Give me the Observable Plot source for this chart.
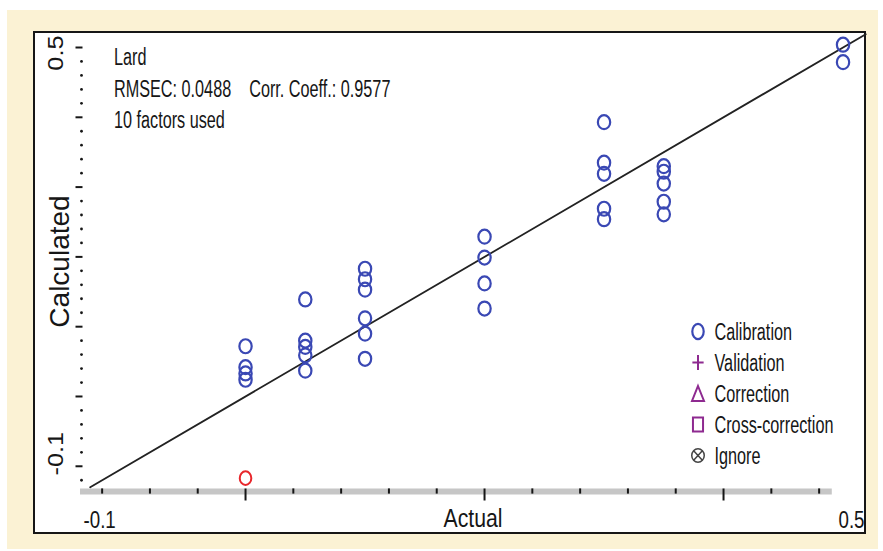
<!DOCTYPE html>
<html><head><meta charset="utf-8">
<script src="https://cdn.jsdelivr.net/npm/d3@7"></script>
<script src="https://cdn.jsdelivr.net/npm/@observablehq/plot@0.6"></script>
<style>
html,body{margin:0;padding:0;background:#fff;width:883px;height:551px;overflow:hidden;}
#cream{position:absolute;left:7px;top:10px;width:871px;height:539px;background:#fbf2d4;}
#panel{position:absolute;left:33px;top:31px;width:829px;height:499px;background:#fff;border:2px solid #161616;}
#chart{position:absolute;left:0;top:0;}
#chart svg text{white-space:pre;}
</style></head>
<body><div id="cream"></div><div id="panel"></div><div id="chart"></div>
<script>
// ---- data ----
const actualValues = [0,0,0,0, 0.05,0.05,0.05,0.05,0.05, 0.1,0.1,0.1,0.1,0.1,0.1, 0.2,0.2,0.2,0.2, 0.3,0.3,0.3,0.3,0.3, 0.35,0.35,0.35,0.35,0.35, 0.5,0.5];
const calculatedValues = [0.072,0.042,0.033,0.024, 0.139,0.080,0.071,0.059,0.037, 0.183,0.168,0.153,0.112,0.090,0.054, 0.229,0.199,0.162,0.126, 0.393,0.335,0.319,0.269,0.254, 0.330,0.322,0.305,0.279,0.261, 0.504,0.479];
const excludedActual = [0];
const excludedCalculated = [-0.117];
const diagRange = [-0.13, 0.519];
const xDomain = [-0.1381, 0.5188];
const yDomain = [-0.1347, 0.5215];
const xBarRange = [-0.1381, 0.491];
const xMajorTicks = [0, 0.2, 0.4];
const xMinorTicks = [-0.12,-0.08,-0.04,0.04,0.08,0.12,0.16,0.24,0.28,0.32,0.36,0.44,0.48];
const yMajorTicks = [-0.1, 0, 0.1, 0.2, 0.3, 0.4, 0.5];
const yMinorTicks = [-0.12,-0.08,-0.06,-0.04,-0.02,0.02,0.04,0.06,0.08,0.12,0.14,0.16,0.18,0.22,0.24,0.26,0.28,0.32,0.34,0.36,0.38,0.42,0.44,0.46,0.48];
const xEndLabels = ["-0.1", "0.5"];
const yEndLabels = ["-0.1", "0.5"];
const xTitle = "Actual";
const yTitle = "Calculated";
const infoLines = ["Lard", "RMSEC: 0.0488    Corr. Coeff.: 0.9577", "10 factors used"];
const legendLabels = ["Calibration", "Validation", "Correction", "Cross-correction", "Ignore"];

// ---- symbols ----
const K = 0.5522847498;
function ellipsePath(ctx, rx, ry) {
  ctx.moveTo(rx, 0);
  ctx.bezierCurveTo(rx, ry*K, rx*K, ry, 0, ry);
  ctx.bezierCurveTo(-rx*K, ry, -rx, ry*K, -rx, 0);
  ctx.bezierCurveTo(-rx, -ry*K, -rx*K, -ry, 0, -ry);
  ctx.bezierCurveTo(rx*K, -ry, rx, -ry*K, rx, 0);
  ctx.closePath();
}
const mkSym = f => ({draw(ctx, size) { const r = Math.sqrt(size / Math.PI); f(ctx, r); }});
const ellipseSym = a => mkSym((c, r) => ellipsePath(c, r*a, r));
const plusSym = a => mkSym((c, r) => { c.moveTo(-r*a, 0); c.lineTo(r*a, 0); c.moveTo(0, -r); c.lineTo(0, r); });
const triSym = a => mkSym((c, r) => { c.moveTo(0, -r); c.lineTo(r*a, r); c.lineTo(-r*a, r); c.closePath(); });
const rectSym = a => mkSym((c, r) => { c.rect(-r*a, -r, 2*r*a, 2*r); });
const crossedSym = a => mkSym((c, r) => { ellipsePath(c, r*a, r); const d = 0.62; c.moveTo(-r*a*d, -r*d); c.lineTo(r*a*d, r*d); c.moveTo(r*a*d, -r*d); c.lineTo(-r*a*d, r*d); });
const vDash = mkSym((c, r) => { c.moveTo(0, -r); c.lineTo(0, r); });
const hDash = mkSym((c, r) => { c.moveTo(-r, 0); c.lineTo(r, 0); });

const blue = "#3a48b4", red = "#e8262b", purple = "#8e2a90", ink = "#161616";
const legendSymbols = [ellipseSym(0.75), plusSym(0.75), triSym(0.8), rectSym(0.72), crossedSym(0.92)];
const legendR = [7.6, 7.5, 7.5, 7, 6.8];
const legendColors = [blue, purple, purple, purple, "#444"];
const legendWidths = [2.2, 2, 2, 2, 1.5];

const points = actualValues.map((a, i) => ({actual: a, calculated: calculatedValues[i]}));
const excluded = excludedActual.map((a, i) => ({actual: a, calculated: excludedCalculated[i]}));

const marks = [
  Plot.ruleY([yDomain[0]], {x1: xBarRange[0], x2: xBarRange[1], stroke: "#c6c6c6", strokeWidth: 6, dy: 1}),
  Plot.dot(xMinorTicks, {x: d => d, frameAnchor: "bottom", symbol: vDash, r: 2.6, stroke: ink, strokeWidth: 2, dy: 0.5}),
  Plot.dot(xMajorTicks, {x: d => d, frameAnchor: "bottom", symbol: vDash, r: 6, stroke: ink, strokeWidth: 2, dy: 4}),
  Plot.dot(yMinorTicks, {y: d => d, frameAnchor: "left", r: 1.4, fill: ink, dx: 1}),
  Plot.dot(yMajorTicks, {y: d => d, frameAnchor: "left", symbol: hDash, r: 3.5, stroke: ink, strokeWidth: 2, dx: -1.5}),
  Plot.line(diagRange, {x: d => d, y: d => d, stroke: "#222", strokeWidth: 1.8}),
  Plot.dot(points, {x: "actual", y: "calculated", symbol: ellipseSym(0.88), r: 7, stroke: blue, strokeWidth: 2.2, fill: "none"}),
  Plot.dot(excluded, {x: "actual", y: "calculated", symbol: ellipseSym(0.85), r: 6.8, stroke: red, strokeWidth: 2, fill: "none"}),
  // axis end labels
  Plot.text([xEndLabels[0]], {text: d => d, frameAnchor: "bottom-left", textAnchor: "start", lineAnchor: "middle", fontSize: 24, dx: 3, dy: 30, fill: ink}),
  Plot.text([xEndLabels[1]], {text: d => d, frameAnchor: "bottom-right", textAnchor: "end", lineAnchor: "middle", fontSize: 24, dx: -1, dy: 30, fill: ink}),
  Plot.text([xTitle], {text: d => d, frameAnchor: "bottom", textAnchor: "middle", lineAnchor: "middle", fontSize: 25, dy: 28, fill: ink}),
  Plot.text([yEndLabels[1]], {text: d => d, frameAnchor: "top-left", rotate: -90, textAnchor: "end", lineAnchor: "middle", fontSize: 22, dx: -25, dy: 3, fill: ink}),
  Plot.text([yEndLabels[0]], {text: d => d, frameAnchor: "bottom-left", rotate: -90, textAnchor: "start", lineAnchor: "middle", fontSize: 22, dx: -25, dy: -15, fill: ink}),
  Plot.text([yTitle], {text: d => d, frameAnchor: "left", rotate: -90, textAnchor: "middle", lineAnchor: "middle", fontSize: 28, dx: -20, fill: ink})
];
infoLines.forEach((t, i) => {
  marks.push(Plot.text([t], {text: d => d, frameAnchor: "top-left", textAnchor: "start", lineAnchor: "middle", fontSize: 23, dx: 33.5, dy: 25.5 + 31.2*i, fill: ink}));
});
legendLabels.forEach((t, i) => {
  marks.push(Plot.dot([t], {frameAnchor: "bottom-right", symbol: legendSymbols[i], r: legendR[i], stroke: legendColors[i], strokeWidth: legendWidths[i], fill: "none", dx: -167.5, dy: -159 + 31*i}));
  marks.push(Plot.text([t], {text: d => d, frameAnchor: "bottom-right", textAnchor: "start", lineAnchor: "middle", fontSize: 23, dx: -151, dy: -157.5 + 31*i, fill: ink}));
});

const svg = Plot.plot({
  width: 883, height: 551,
  marginLeft: 80, marginRight: 18, marginTop: 32, marginBottom: 61,
  x: {domain: xDomain, axis: null},
  y: {domain: yDomain, axis: null},
  style: {background: "transparent", fontFamily: "'Liberation Sans', Arial, sans-serif", color: ink, overflow: "visible"},
  marks
});
document.getElementById("chart").appendChild(svg);

// horizontal squeeze of the narrow bitmap-style font
const factorFor = s => {
  if (infoLines.includes(s) || legendLabels.includes(s)) return 0.705;
  if (s === xTitle) return 0.85;
  if (s === yTitle) return 1.0;
  return null;
};
svg.querySelectorAll("text").forEach(t => {
  const s = t.textContent;
  let f = factorFor(s);
  if (f === null) {
    const rot = (t.getAttribute("transform") || "").includes("rotate");
    if (xEndLabels.includes(s)) f = rot ? 1.15 : 0.78;
    else return;
  }
  const L = t.getComputedTextLength();
  if (L > 0 && f !== 1) {
    t.setAttribute("textLength", (L * f).toFixed(2));
    t.setAttribute("lengthAdjust", "spacingAndGlyphs");
  }
});
</script></body></html>
